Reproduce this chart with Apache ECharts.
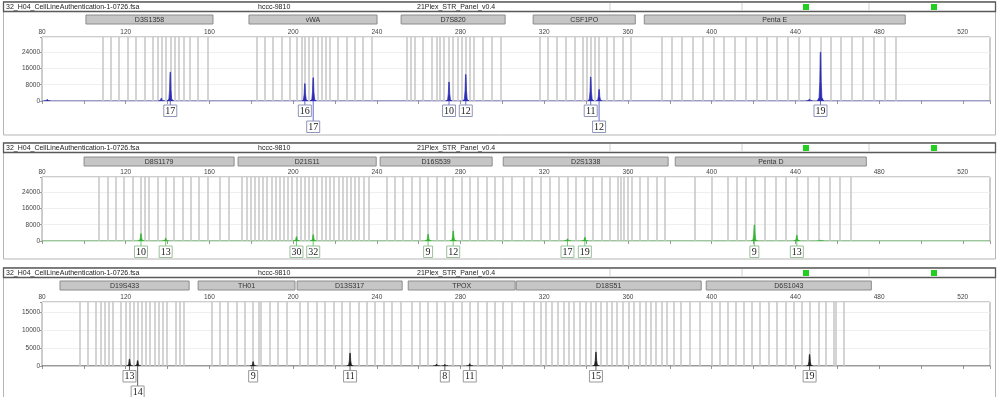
<!DOCTYPE html>
<html><head><meta charset="utf-8">
<script src="https://cdn.jsdelivr.net/npm/echarts@6/dist/echarts.min.js"></script>
<style>html,body{margin:0;padding:0;background:#fff;}#c{width:1000px;height:397px;}</style>
</head><body><div id="c"></div>
<script>
const fileName = '32_H04_CellLineAuthentication-1-0726.fsa';
const sampleName = 'hccc-9810';
const panelName = '21Plex_STR_Panel_v0.4';

// ---------- Panel 1 (blue dye) ----------
const p1Markers = ['D3S1358', 'vWA', 'D7S820', 'CSF1PO', 'Penta E'];
const p1MarkerStart = [101.0, 178.9, 251.6, 314.7, 367.8];
const p1MarkerEnd = [161.7, 240.1, 301.3, 363.5, 492.5];
const p1Bins = [
  108.8, 112.8, 116.8, 120.8, 125.0, 129.0, 133.0, 135.1, 137.0, 139.1, 141.3, 143.4, 145.5, 147.7, 150.6, 154.6, 159.3,
  182.5, 186.4, 190.4, 194.4, 198.4, 201.6, 204.0, 205.6, 207.5, 209.6, 211.6, 213.6, 215.7, 217.5, 221.5, 225.5, 229.5, 233.5, 237.4,
  254.1, 256.2, 258.1, 262.1, 266.1, 268.5, 270.1, 272.2, 274.5, 276.4, 278.5, 280.4, 282.5, 284.4, 286.5, 290.8, 294.8, 299.3,
  317.8, 321.6, 326.0, 330.3, 334.4, 338.3, 340.3, 342.2, 344.2, 346.2, 349.9, 353.4, 357.4, 361.4,
  376.2, 381.0, 385.8, 391.1, 395.9, 400.9, 406.0, 411.0, 416.1, 421.4, 426.5, 431.2, 436.3, 441.6, 446.7, 452.0, 456.8, 461.8, 467.1, 472.3, 477.4, 482.5, 488.1
];
const p1PeakSize = [82.5, 137.0, 141.3, 205.6, 209.6, 274.5, 282.5, 342.2, 346.2, 446.7, 452.0];
const p1PeakHeight = [700, 1300, 14200, 8500, 11400, 9300, 13000, 11800, 5700, 900, 24000];
const p1AlleleText = ['17', '16', '17', '10', '12', '11', '12', '19'];
const p1AlleleSize = [141.3, 205.6, 209.6, 274.5, 282.5, 342.2, 346.2, 452.0];
const p1AlleleRow = [0, 0, 1, 0, 0, 0, 1, 0];
const p1YTicks = [0, 8000, 16000, 24000];

// ---------- Panel 2 (green dye) ----------
const p2Markers = ['D8S1179', 'D21S11', 'D16S539', 'D2S1338', 'Penta D'];
const p2MarkerStart = [100.1, 173.7, 241.6, 300.4, 382.6];
const p2MarkerEnd = [171.8, 239.7, 295.1, 379.2, 473.9];
const p2Bins = [
  107.2, 111.2, 115.2, 119.2, 123.4, 127.3, 129.2, 131.1, 135.1, 139.1, 143.1, 147.1, 151.1, 155.1, 159.1, 165.1, 169.1,
  175.6, 177.7, 179.6, 181.7, 183.6, 185.6, 187.5, 189.6, 191.5, 193.6, 195.5, 197.6, 199.5, 201.6, 203.5, 205.6, 207.5, 209.6, 211.5, 213.6, 215.5, 217.6, 219.5, 221.6, 223.5, 225.6, 227.5, 229.6, 231.5, 233.6, 236.0,
  244.5, 248.6, 252.5, 256.5, 260.5, 264.5, 268.5, 272.5, 276.5, 280.4, 284.4, 288.4, 292.4, 296.4,
  300.4, 304.4, 310.2, 314.2, 318.5, 322.6, 326.9, 331.1, 335.2, 339.4, 343.2, 347.4, 351.5, 354.9, 356.5, 358.1, 359.7, 361.8, 365.4, 369.4, 373.6, 377.6,
  391.7, 400.0, 407.9, 412.0, 416.1, 420.4, 425.4, 430.4, 435.6, 440.7, 445.7, 451.2, 456.2, 461.4, 466.5
];
const p2PeakSize = [127.3, 139.1, 201.6, 209.6, 264.5, 276.5, 331.1, 339.4, 420.4, 440.7, 452.0];
const p2PeakHeight = [3600, 1300, 2100, 3100, 3300, 4900, 1000, 1800, 7900, 2800, 300];
const p2AlleleText = ['10', '13', '30', '32', '9', '12', '17', '19', '9', '13'];
const p2AlleleSize = [127.3, 139.1, 201.6, 209.6, 264.5, 276.5, 331.1, 339.4, 420.4, 440.7];
const p2AlleleRow = [0, 0, 0, 0, 0, 0, 0, 0, 0, 0];
const p2YTicks = [0, 8000, 16000, 24000];

// ---------- Panel 3 (black dye) ----------
const p3Markers = ['D19S433', 'TH01', 'D13S317', 'TPOX', 'D18S51', 'D6S1043'];
const p3MarkerStart = [88.6, 154.6, 201.9, 255.0, 306.6, 397.4];
const p3MarkerEnd = [150.3, 200.9, 252.1, 306.1, 395.0, 476.3];
const p3Bins = [
  97.9, 101.8, 105.8, 107.9, 109.8, 111.8, 113.8, 117.8, 119.8, 121.8, 123.8, 125.7, 127.7, 129.7, 131.7, 133.7, 135.7, 137.7, 139.7, 143.7, 145.7, 147.7,
  160.9, 164.9, 168.9, 172.9, 176.9, 180.9, 183.8, 184.6, 188.8, 192.8, 196.8,
  203.2, 207.2, 211.2, 215.2, 219.2, 223.2, 227.2, 231.2, 235.2, 239.2, 243.2, 247.2, 251.2,
  256.5, 260.5, 264.5, 268.5, 272.5, 276.5, 280.4, 284.4, 288.4, 292.4, 296.4, 300.4, 304.4,
  310.4, 314.8, 318.4, 320.9, 323.7, 326.3, 329.2, 331.6, 334.3, 337.1, 339.6, 342.4, 344.7, 347.2, 349.7, 352.3, 354.7, 357.6, 360.3, 362.7, 365.5, 368.3, 370.7, 373.5, 376.2, 378.6, 381.8, 385.0, 389.5, 394.2,
  399.8, 403.7, 407.8, 411.3, 415.3, 419.3, 423.2, 427.1, 431.2, 435.2, 439.1, 443.2, 446.8, 451.1, 454.7, 458.2, 459.3, 463.0
];
const p3PeakSize = [121.8, 125.7, 180.9, 227.2, 268.5, 272.5, 284.4, 344.7, 446.8];
const p3PeakHeight = [1900, 1500, 1200, 3600, 500, 400, 600, 3900, 3200];
const p3AlleleText = ['13', '14', '9', '11', '8', '11', '15', '19'];
const p3AlleleSize = [121.8, 125.7, 180.9, 227.2, 272.5, 284.4, 344.7, 446.8];
const p3AlleleRow = [0, 1, 0, 0, 0, 0, 0, 0];
const p3YTicks = [0, 5000, 10000, 15000];

const xTickLabels = [80, 120, 160, 200, 240, 280, 320, 360, 400, 440, 480, 520];

// ---------- layout / style (not data) ----------
const panels = [
  {markers: p1Markers, ms: p1MarkerStart, me: p1MarkerEnd, bins: p1Bins, ps: p1PeakSize, ph: p1PeakHeight,
   at: p1AlleleText, as: p1AlleleSize, ar: p1AlleleRow, yt: p1YTicks, ymax: 31500, yint: 8000,
   color: '#2b2bb5', boxColor: '#8f95b8', top: 37, frameTop: 2, frameBottom: 135, barOff: 22, gap: 4, rowStep: 16},
  {markers: p2Markers, ms: p2MarkerStart, me: p2MarkerEnd, bins: p2Bins, ps: p2PeakSize, ph: p2PeakHeight,
   at: p2AlleleText, as: p2AlleleSize, ar: p2AlleleRow, yt: p2YTicks, ymax: 31500, yint: 8000,
   color: '#2fb52f', boxColor: '#9cbf9c', top: 177, frameTop: 143, frameBottom: 259, barOff: 20, gap: 5, rowStep: 16},
  {markers: p3Markers, ms: p3MarkerStart, me: p3MarkerEnd, bins: p3Bins, ps: p3PeakSize, ph: p3PeakHeight,
   at: p3AlleleText, as: p3AlleleSize, ar: p3AlleleRow, yt: p3YTicks, ymax: 18000, yint: 5000,
   color: '#1e1e1e', boxColor: '#999999', top: 302, frameTop: 268, frameBottom: 400, barOff: 21, gap: 4.5, rowStep: 15.5}
];
const PLOT_H = 64;
const XMIN = 80, XMAX = 533;

const grids = [], xAxes = [], yAxes = [], series = [], graphics = [];

panels.forEach((p, gi) => {
  grids.push({left: 42, right: 10, top: p.top, height: PLOT_H, show: true,
    borderColor: '#9a9a9a', borderWidth: 1, backgroundColor: 'rgba(0,0,0,0)'});
  xAxes.push({type: 'value', gridIndex: gi, min: XMIN, max: XMAX, interval: 20, position: 'top',
    axisLine: {show: false},
    axisTick: {show: true, inside: true, length: 3, lineStyle: {color: '#999'}},
    axisLabel: {fontSize: 6.5, color: '#444', margin: 1, fontFamily: 'Liberation Sans',
      formatter: v => xTickLabels.indexOf(v) >= 0 ? String(v) : ''},
    splitLine: {show: false}});
  yAxes.push({type: 'value', gridIndex: gi, min: 0, max: p.ymax, interval: p.yint,
    axisLine: {show: false},
    axisTick: {show: true, length: 2, lineStyle: {color: '#999'}},
    axisLabel: {fontSize: 6.5, color: '#444', margin: 2, fontFamily: 'Liberation Sans',
      formatter: v => p.yt.indexOf(v) >= 0 ? String(v) : ''},
    splitLine: {show: true, lineStyle: {color: '#efefef', width: 1}}});

  // baseline trace + allele bins
  series.push({type: 'line', xAxisIndex: gi, yAxisIndex: gi, data: [[XMIN, 0], [XMAX, 0]],
    symbol: 'none', silent: true, z: 3,
    lineStyle: {color: p.color, width: 1, opacity: 0.6},
    markLine: {silent: true, symbol: ['none', 'none'], label: {show: false}, animation: false,
      lineStyle: {color: '#c6c6c6', width: 1.5, type: 'solid'},
      emphasis: {disabled: true},
      data: p.bins.map(v => ({xAxis: v}))}});

  // marker bars
  series.push({type: 'custom', xAxisIndex: gi, yAxisIndex: gi, clip: false, silent: true, z: 4,
    data: p.ms.map((s, i) => [s, p.me[i]]),
    renderItem: (params, api) => {
      const a = api.coord([api.value(0), p.ymax]);
      const b = api.coord([api.value(1), p.ymax]);
      const t = a[1] - p.barOff;
      return {type: 'group', children: [
        {type: 'rect', shape: {x: a[0], y: t, width: b[0] - a[0], height: 9},
         style: {fill: '#c6c6c6', stroke: '#8c8c8c', lineWidth: 1}},
        {type: 'text', style: {text: p.markers[params.dataIndex], x: (a[0] + b[0]) / 2, y: t + 5,
          align: 'center', verticalAlign: 'middle', fontSize: 7, fill: '#333', fontFamily: 'Liberation Sans'}}
      ]};
    }});

  // peaks
  series.push({type: 'custom', xAxisIndex: gi, yAxisIndex: gi, clip: true, silent: true, z: 6,
    data: p.ps.map((s, i) => [s, p.ph[i]]),
    renderItem: (params, api) => {
      const b = api.coord([api.value(0), 0]);
      const t = api.coord([api.value(0), api.value(1)]);
      const H = b[1] - t[1], x = b[0], y = b[1];
      return {type: 'polygon', shape: {points: [[x - 3.2, y], [x - 1.4, y - 0.07 * H], [x - 0.7, y - 0.4 * H],
        [x - 0.25, t[1]], [x + 0.25, t[1]], [x + 0.7, y - 0.4 * H], [x + 1.4, y - 0.07 * H], [x + 3.2, y]]},
        style: {fill: p.color, stroke: p.color, lineWidth: 0.7}};
    }});

  // allele labels
  series.push({type: 'custom', xAxisIndex: gi, yAxisIndex: gi, clip: false, silent: true, z: 7,
    data: p.as.map((s, i) => [s, 0]),
    renderItem: (params, api) => {
      const i = params.dataIndex;
      const b = api.coord([api.value(0), 0]);
      const txt = p.at[i];
      const w = txt.length === 1 ? 9 : 13, h = 11.5;
      const top = b[1] + p.gap + p.ar[i] * p.rowStep;
      return {type: 'group', children: [
        {type: 'line', shape: {x1: b[0], y1: b[1], x2: b[0], y2: top}, style: {stroke: p.color, lineWidth: 1, opacity: 0.7}},
        {type: 'rect', shape: {x: b[0] - w / 2, y: top, width: w, height: h},
         style: {fill: '#fff', stroke: p.boxColor, lineWidth: 1}},
        {type: 'text', style: {text: txt, x: b[0], y: top + h / 2 + 0.5, align: 'center', verticalAlign: 'middle',
          fontSize: 10, fill: '#222', fontFamily: 'Liberation Serif'}}
      ]};
    }});

  // frames & header
  graphics.push({type: 'rect', shape: {x: 3.5, y: p.frameTop, width: 992, height: p.frameBottom - p.frameTop},
    style: {fill: 'none', stroke: '#b5b5b5', lineWidth: 1}, z: 1, silent: true});
  graphics.push({type: 'rect', shape: {x: 3.5, y: p.frameTop, width: 992, height: 9.5},
    style: {fill: '#fff', stroke: '#5a5a5a', lineWidth: 1.3}, z: 2, silent: true});
  [610, 742, 869].forEach(sx => graphics.push({type: 'line', shape: {x1: sx, y1: p.frameTop + 1, x2: sx, y2: p.frameTop + 9},
    style: {stroke: '#d0d0d0', lineWidth: 1}, z: 3, silent: true}));
  const ty = p.frameTop + 5;
  [[fileName, 6], [sampleName, 258], [panelName, 417]].forEach(([t, tx]) => graphics.push({type: 'text',
    style: {text: t, x: tx, y: ty, verticalAlign: 'middle', fontSize: 7, fill: '#222', fontFamily: 'Liberation Sans'},
    z: 3, silent: true}));
  [803, 931].forEach(gx => graphics.push({type: 'rect', shape: {x: gx, y: p.frameTop + 2, width: 6, height: 6},
    style: {fill: '#1fd01f'}, z: 3, silent: true}));
});

const chart = echarts.init(document.getElementById('c'), null, {renderer: 'canvas'});
chart.setOption({
  animation: false,
  backgroundColor: '#fff',
  grid: grids, xAxis: xAxes, yAxis: yAxes, series: series,
  graphic: graphics
});
</script></body></html>
